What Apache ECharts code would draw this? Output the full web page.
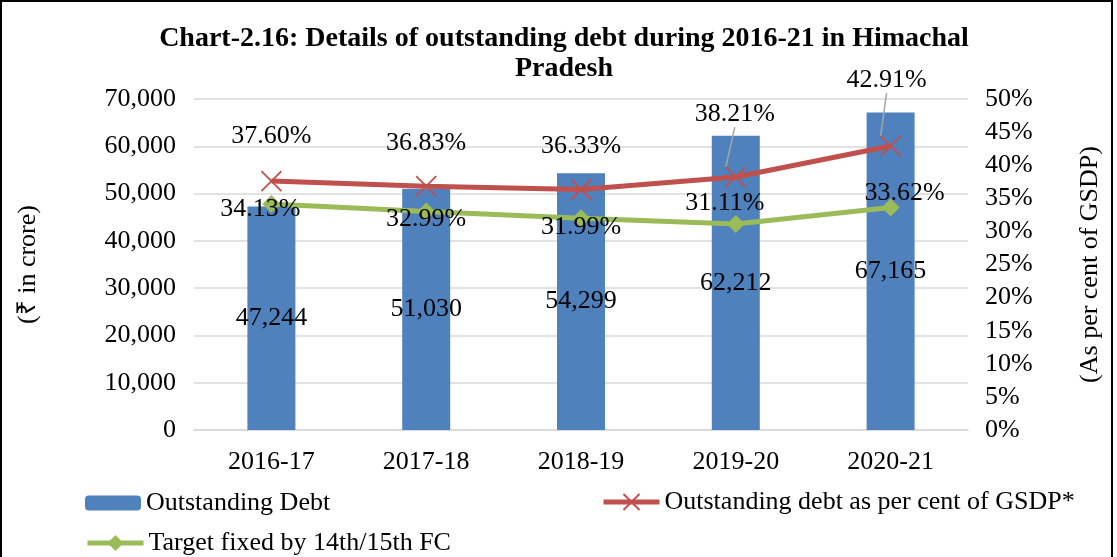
<!DOCTYPE html>
<html><head><meta charset="utf-8">
<script src="https://cdn.jsdelivr.net/npm/echarts@6/dist/echarts.min.js"></script>
<style>html,body{margin:0;padding:0;background:#fff}#c{width:1117px;height:557px}</style>
</head><body><div id="c"></div>
<script>
const categories = ['2016-17','2017-18','2018-19','2019-20','2020-21'];
const debt = [47244, 51030, 54299, 62212, 67165];
const debtPct = [37.60, 36.83, 36.33, 38.21, 42.91];
const target = [34.13, 32.99, 31.99, 31.11, 33.62];
const leftTicks = {min: 0, max: 70000, interval: 10000};
const rightTicks = {min: 0, max: 50, interval: 5};

const redOffsets = [[0,-21],[0,-19],[0,-19],[-1,-39],[-4,-42]];
const greenOffsets = [[-11,27],[0,30],[0,31],[-11,1],[14,8]];
const leaderIdx = [3,4];

const FONT = 'Liberation Serif';
const FS = 26;
const chart = echarts.init(document.getElementById('c'));
const fmt = v => String(v).replace(/\B(?=(\d{3})+(?!\d))/g, ',');
const legendText = {fontFamily: FONT, fontSize: FS, color: '#000'};

chart.setOption({
  backgroundColor: '#fff',
  animation: false,
  textStyle: {fontFamily: FONT, color: '#000'},
  title: {
    text: 'Chart-2.16: Details of outstanding debt during 2016-21 in Himachal\nPradesh',
    left: 559, top: 19, textAlign: 'center',
    textStyle: {fontFamily: FONT, fontWeight: 'bold', fontSize: 28, lineHeight: 30, color: '#000', align: 'center'}
  },
  graphic: [{type: 'rect', shape: {x: 1, y: 1, width: 1111, height: 570}, style: {fill: 'none', stroke: '#000', lineWidth: 2}, silent: true}],
  grid: {left: 194, right: 149, top: 99, bottom: 127},
  legend: [
    {data: ['Outstanding Debt'], left: 80, top: 485, itemWidth: 56, itemHeight: 15, textStyle: legendText},
    {data: ['Outstanding debt as per cent of GSDP*'], left: 596, top: 484, itemWidth: 56, itemHeight: 20, itemGap: 4,
     lineStyle: {width: 5}, textStyle: legendText},
    {data: ['Target fixed by 14th/15th FC'], left: 80, top: 525, itemWidth: 56, itemHeight: 20,
     lineStyle: {width: 5}, textStyle: legendText}
  ],
  xAxis: {
    type: 'category', data: categories,
    axisLine: {show: true, lineStyle: {color: '#d9d9d9', width: 1.5}}, axisTick: {show: false},
    axisLabel: {fontFamily: FONT, fontSize: FS, color: '#000', margin: 19}
  },
  yAxis: [
    {type: 'value', min: leftTicks.min, max: leftTicks.max, interval: leftTicks.interval,
     name: '(₹ in crore)', nameLocation: 'middle', nameGap: 153, nameRotate: 90,
     nameTextStyle: {fontFamily: FONT, fontSize: FS, color: '#000'},
     axisLabel: {fontFamily: FONT, fontSize: FS, color: '#000', margin: 18, formatter: fmt},
     splitLine: {lineStyle: {color: '#d9d9d9', width: 1.5}}, axisLine: {show: false}, axisTick: {show: false}},
    {type: 'value', min: rightTicks.min, max: rightTicks.max, interval: rightTicks.interval,
     name: '(As per cent of GSDP)', nameLocation: 'middle', nameGap: 109, nameRotate: 90,
     nameTextStyle: {fontFamily: FONT, fontSize: FS, color: '#000'},
     axisLabel: {fontFamily: FONT, fontSize: FS, color: '#000', margin: 17, formatter: '{value}%'},
     splitLine: {show: false}, axisLine: {show: false}, axisTick: {show: false}}
  ],
  series: [
    {name: 'Outstanding Debt', type: 'bar', data: debt, barWidth: 48, yAxisIndex: 0,
     itemStyle: {color: '#4F81BD'},
     label: {show: true, position: 'inside', fontFamily: FONT, fontSize: FS, color: '#000', formatter: p => fmt(p.value)}},
    {name: 'Outstanding debt as per cent of GSDP*', type: 'line', yAxisIndex: 1, z: 5,
     data: debtPct.map((v, i) => ({value: v, labelLine: {show: leaderIdx.includes(i)}})),
     lineStyle: {color: '#C0504D', width: 5}, itemStyle: {color: '#C0504D', borderColor: '#C0504D', borderWidth: 1.8},
     symbol: 'path://M0,0L10,10M10,0L0,10', symbolSize: 20, showSymbol: true,
     label: {show: true, position: 'top', distance: 0, fontFamily: FONT, fontSize: FS, color: '#000', formatter: p => p.value.toFixed(2) + '%'},
     labelLine: {show: false, lineStyle: {color: '#a6a6a6', width: 1.5}, length2: 0},
     labelLayout: p => ({dx: redOffsets[p.dataIndex][0], dy: redOffsets[p.dataIndex][1]})},
    {name: 'Target fixed by 14th/15th FC', type: 'line', yAxisIndex: 1, z: 4, data: target,
     lineStyle: {color: '#9BBB59', width: 5}, itemStyle: {color: '#9BBB59'},
     symbol: 'diamond', symbolSize: 18,
     label: {show: true, position: 'top', distance: 0, fontFamily: FONT, fontSize: FS, color: '#000', formatter: p => p.value.toFixed(2) + '%'},
     labelLayout: p => ({dx: greenOffsets[p.dataIndex][0], dy: greenOffsets[p.dataIndex][1]})}
  ]
});
</script></body></html>
